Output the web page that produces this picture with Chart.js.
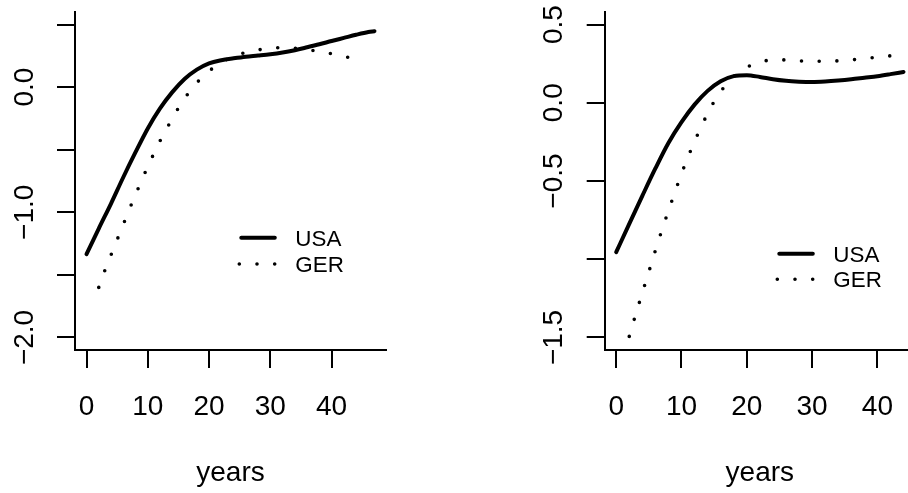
<!DOCTYPE html>
<html>
<head>
<meta charset="utf-8">
<script src="https://cdn.jsdelivr.net/npm/chart.js@4.4.1/dist/chart.umd.min.js"></script>
<style>
html, body { margin:0; padding:0; background:#fff; }
body { position:relative; width:908px; height:493px; overflow:hidden; }
.panel { position:absolute; top:0; height:493px; }
#leftBox { left:0; width:454px; }
#rightBox { left:454px; width:470px; }
</style>
</head>
<body>
<div class="panel" id="leftBox"><canvas id="left"></canvas></div>
<div class="panel" id="rightBox"><canvas id="right"></canvas></div>
<script>
const FONT = '"Liberation Sans", Arial, Helvetica, sans-serif';

// series names and axis title
const seriesNames = ['USA', 'GER'];
const xTitle = 'years';

// years for each curve
const gerYears = [2,3,4,5,6,7,8,9,10,11,12,13,14,15,16,17,18,19,20,22,24,26,28,30,32,34,36,38,40,42,44];
const leftUsaYears = [0,2,4,6,8,10,12,14,16,18,20,22,24,26,28,30,32,34,36,38,40,42,44,46,47];
const rightUsaYears = [0,2,4,6,8,10,12,14,16,18,20,22,24,26,28,30,32,34,36,38,40,42,44];

// left panel values
const leftUsa = [-1.335,-1.13,-0.93,-0.72,-0.52,-0.33,-0.17,-0.04,0.065,0.14,0.19,0.215,0.23,0.243,0.252,0.262,0.276,0.295,0.318,0.342,0.368,0.393,0.418,0.44,0.447];
const leftGer = [-1.60,-1.463,-1.341,-1.219,-1.097,-0.975,-0.859,-0.745,-0.634,-0.53,-0.43,-0.339,-0.251,-0.167,-0.094,-0.021,0.034,0.085,0.128,0.197,0.246,0.277,0.297,0.309,0.316,0.311,0.298,0.286,0.266,0.245,0.224];

// right panel values
const rightUsa = [-0.955,-0.774,-0.595,-0.42,-0.257,-0.124,-0.012,0.076,0.138,0.17,0.176,0.165,0.15,0.14,0.135,0.133,0.136,0.142,0.15,0.16,0.17,0.183,0.197];
const rightGer = [-1.493,-1.351,-1.215,-1.08,-0.944,-0.814,-0.69,-0.571,-0.454,-0.347,-0.247,-0.155,-0.069,0.008,0.071,0.124,0.167,0.201,0.227,0.259,0.274,0.274,0.268,0.265,0.265,0.268,0.274,0.282,0.291,0.300,0.310];

// ticks and tick labels
const xTicks = [0,10,20,30,40];
const leftYTicks = [-2,-1.5,-1,-0.5,0,0.5];
const leftYLabelAt = [0,-1,-2];
const leftYLabels = ['0.0','\u22121.0','\u22122.0'];
const rightYTicks = [-1.5,-1,-0.5,0,0.5];
const rightYLabelAt = [0.5,0,-0.5,-1.5];
const rightYLabels = ['0.5','0.0','\u22120.5','\u22121.5'];

function pairs(xs, ys) {
    return xs.map((x, i) => ({x: x, y: ys[i]}));
}

// R-like labels and legend drawn on top of the chart
const rText = {
    id: 'rText',
    afterDraw(chart, args, o) {
        const ctx = chart.ctx, xs = chart.scales.x, ys = chart.scales.y, area = chart.chartArea;
        ctx.save();
        ctx.fillStyle = '#000';
        ctx.font = '28px ' + FONT;
        ctx.textAlign = 'center';
        ctx.textBaseline = 'alphabetic';

        o.yAt.forEach((v, i) => {
            ctx.save();
            ctx.translate(o.yLabelX, ys.getPixelForValue(v));
            ctx.rotate(-Math.PI / 2);
            ctx.fillText(o.yText[i], 0, 0);
            ctx.restore();
        });

        xs.ticks.forEach(t => ctx.fillText(String(t.value), xs.getPixelForValue(t.value), 415));
        ctx.fillText(xTitle, (area.left + area.right) / 2, 481);

        //legend
        ctx.font = '22.4px ' + FONT;
        ctx.textAlign = 'left';
        chart.data.datasets.forEach((ds, i) => {
            const y = o.legendY + i * o.legendGap;
            ctx.beginPath();
            ctx.lineWidth = ds.borderWidth;
            ctx.strokeStyle = ds.borderColor;
            ctx.lineCap = 'round';
            if (ds.borderDash) {
                ctx.setLineDash(ds.borderDash);
                ctx.moveTo(o.legendX, y);
                ctx.lineTo(o.legendX + 38, y);
            } else {
                ctx.setLineDash([]);
                ctx.moveTo(o.legendX + 2, y);
                ctx.lineTo(o.legendX + 35.5, y);
            }
            ctx.stroke();
            ctx.setLineDash([]);
            ctx.fillText(ds.label, o.legendX + 56, y + 8);
        });
        ctx.restore();
    }
};

function makeChart(id, usa, ger, lim, yTicks, padRight, yWidth, text) {
    return new Chart(document.getElementById(id), {
        type: 'line',
        data: {
            datasets: [
                {
                    label: seriesNames[0],
                    data: usa,
                    borderColor: '#000',
                    borderWidth: 4,
                    borderCapStyle: 'round',
                    borderJoinStyle: 'round',
                    pointRadius: 0,
                    fill: false,
                    cubicInterpolationMode: 'monotone'
                },
                {
                    label: seriesNames[1],
                    data: ger,
                    borderColor: '#000',
                    borderWidth: 3.6,
                    borderDash: [0, 17.7],
                    borderCapStyle: 'round',
                    pointRadius: 0,
                    fill: false,
                    cubicInterpolationMode: 'monotone'
                }
            ]
        },
        options: {
            responsive: true,
            maintainAspectRatio: false,
            animation: false,
            devicePixelRatio: 1,
            events: [],
            layout: { padding: { left: 0, top: 12, right: padRight, bottom: 0 } },
            plugins: {
                legend: { display: false },
                tooltip: { enabled: false },
                rText: text
            },
            scales: {
                x: {
                    type: 'linear',
                    min: lim[0], max: lim[1],
                    afterBuildTicks: s => { s.ticks = xTicks.map(v => ({value: v})); },
                    afterFit: s => { s.height = 143; },
                    ticks: { display: false },
                    grid: { drawOnChartArea: false, drawTicks: true, tickLength: 18, color: '#000', lineWidth: 2 },
                    border: { display: true, color: '#000', width: 2 }
                },
                y: {
                    type: 'linear',
                    min: lim[2], max: lim[3],
                    afterBuildTicks: s => { s.ticks = yTicks.map(v => ({value: v})); },
                    afterFit: s => { s.width = yWidth; },
                    ticks: { display: false },
                    grid: { drawOnChartArea: false, drawTicks: true, tickLength: 18, color: '#000', lineWidth: 2 },
                    border: { display: true, color: '#000', width: 2 }
                }
            }
        },
        plugins: [rText]
    });
}

makeChart('left', pairs(leftUsaYears, leftUsa), pairs(gerYears, leftGer),
    [-1.88, 48.88, -2.1, 0.6], leftYTicks, 68, 75,
    { yAt: leftYLabelAt, yText: leftYLabels, yLabelX: 33.3, legendX: 239.3, legendY: 237.7, legendGap: 26.3 });

makeChart('right', pairs(rightUsaYears, rightUsa), pairs(gerYears, rightGer),
    [-1.76, 45.76, -1.58, 0.58], rightYTicks, 9, 150.7,
    { yAt: rightYLabelAt, yText: rightYLabels, yLabelX: 108.3, legendX: 323.3, legendY: 253.8, legendGap: 25.5 });
</script>
</body>
</html>
